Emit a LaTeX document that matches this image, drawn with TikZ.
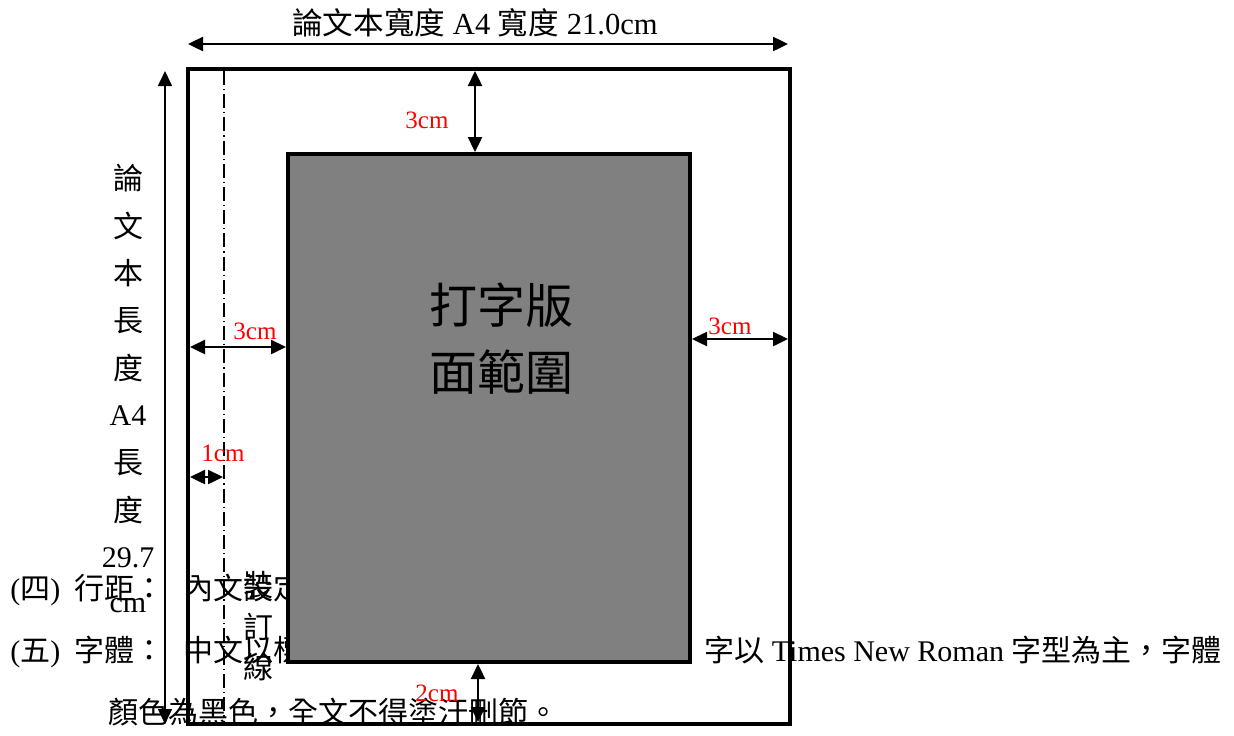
\documentclass[tikz,border=0pt]{standalone}
\usepackage{fontspec}
\setmainfont{Liberation Serif}
\newfontfamily\cjk{Noto Sans CJK TC}
\usepackage{tikz}
\usetikzlibrary{arrows.meta}

\begin{document}
\begin{tikzpicture}[x=0.5pt,y=-0.5pt,
  >={Triangle[length=7.5pt,width=7pt]},
  dimline/.style={<->,line width=1.2pt},
  redlab/.style={red,font=\fontsize{12.5}{14}\selectfont,inner sep=0pt},
  txt/.style={font=\fontsize{15}{18}\selectfont,inner sep=0pt}]
\useasboundingbox (0,0) rectangle (1234,735);
% body text behind the page
\node[txt,anchor=base west] (l4a) at (10,599) {({\cjk 四})};
\node[txt,anchor=base west] (l4b) at (74,599) {\cjk 行距：};
\node[txt,anchor=base west] (l4c) at (183,599) {\cjk 內文設定};
\node[txt,anchor=base west] (l5a) at (10,661) {({\cjk 五})};
\node[txt,anchor=base west] (l5b) at (74,661) {\cjk 字體：};
\node[txt,anchor=base west] (l5c) at (183,661) {\cjk 中文以標};
\node[txt,anchor=base east] (l5d) at (1222,661) {{\cjk 字以} Times New Roman {\cjk 字型為主，字體}};
\node[txt,anchor=base west] (l6) at (108,723) {\cjk 顏色為黑色，全文不得塗汙刪節。};
% page and text area
\draw[line width=2.3pt] (188,69) rectangle (790,724);
\draw[line width=2.3pt,fill=gray] (288,154) rectangle (690,662);
\node[font=\fontsize{24}{33.5}\selectfont\cjk,align=center] (area) at (501,339) {打字版\\面範圍};
\draw[line width=0.6pt,dash pattern=on 7pt off 2pt on 0.6pt off 2pt] (224,71) -- (224,722);
\foreach \t/\y in {裝/585,訂/627,線/667}
  \node[txt,font=\fontsize{15}{18}\selectfont\cjk] (b\y) at (258,\y) {\t};
% width and length
\draw[dimline] (188,44) -- (788,44);
\node[txt,font=\fontsize{15.3}{18}\selectfont] (wlab) at (475,23) {{\cjk 論文本寬度} A4 {\cjk 寬度} 21.0cm};
\draw[<->,line width=0.8pt] (165,71) -- (165,724);
\foreach \t [count=\i] in {{\cjk 論},{\cjk 文},{\cjk 本},{\cjk 長},{\cjk 度},A4,{\cjk 長},{\cjk 度},29.7,cm}
  \node[txt] (h\i) at (128,{178+47.5*(\i-1)}) {\t};
% margins
\draw[dimline] (475,71) -- (475,152);
\node[redlab] (mtop) at (427,120) {3cm};
\draw[dimline] (190,347) -- (286,347);
\node[redlab] (mleft) at (255,331) {3cm};
\draw[dimline] (692,339) -- (788,339);
\node[redlab] (mright) at (730,326) {3cm};
\draw[dimline] (190,477) -- (223,477);
\node[redlab] (mbind) at (223,453) {1cm};
\draw[dimline] (478,664) -- (478,722);
\node[redlab] (mbot) at (437,693) {2cm};
\end{tikzpicture}
\end{document}
